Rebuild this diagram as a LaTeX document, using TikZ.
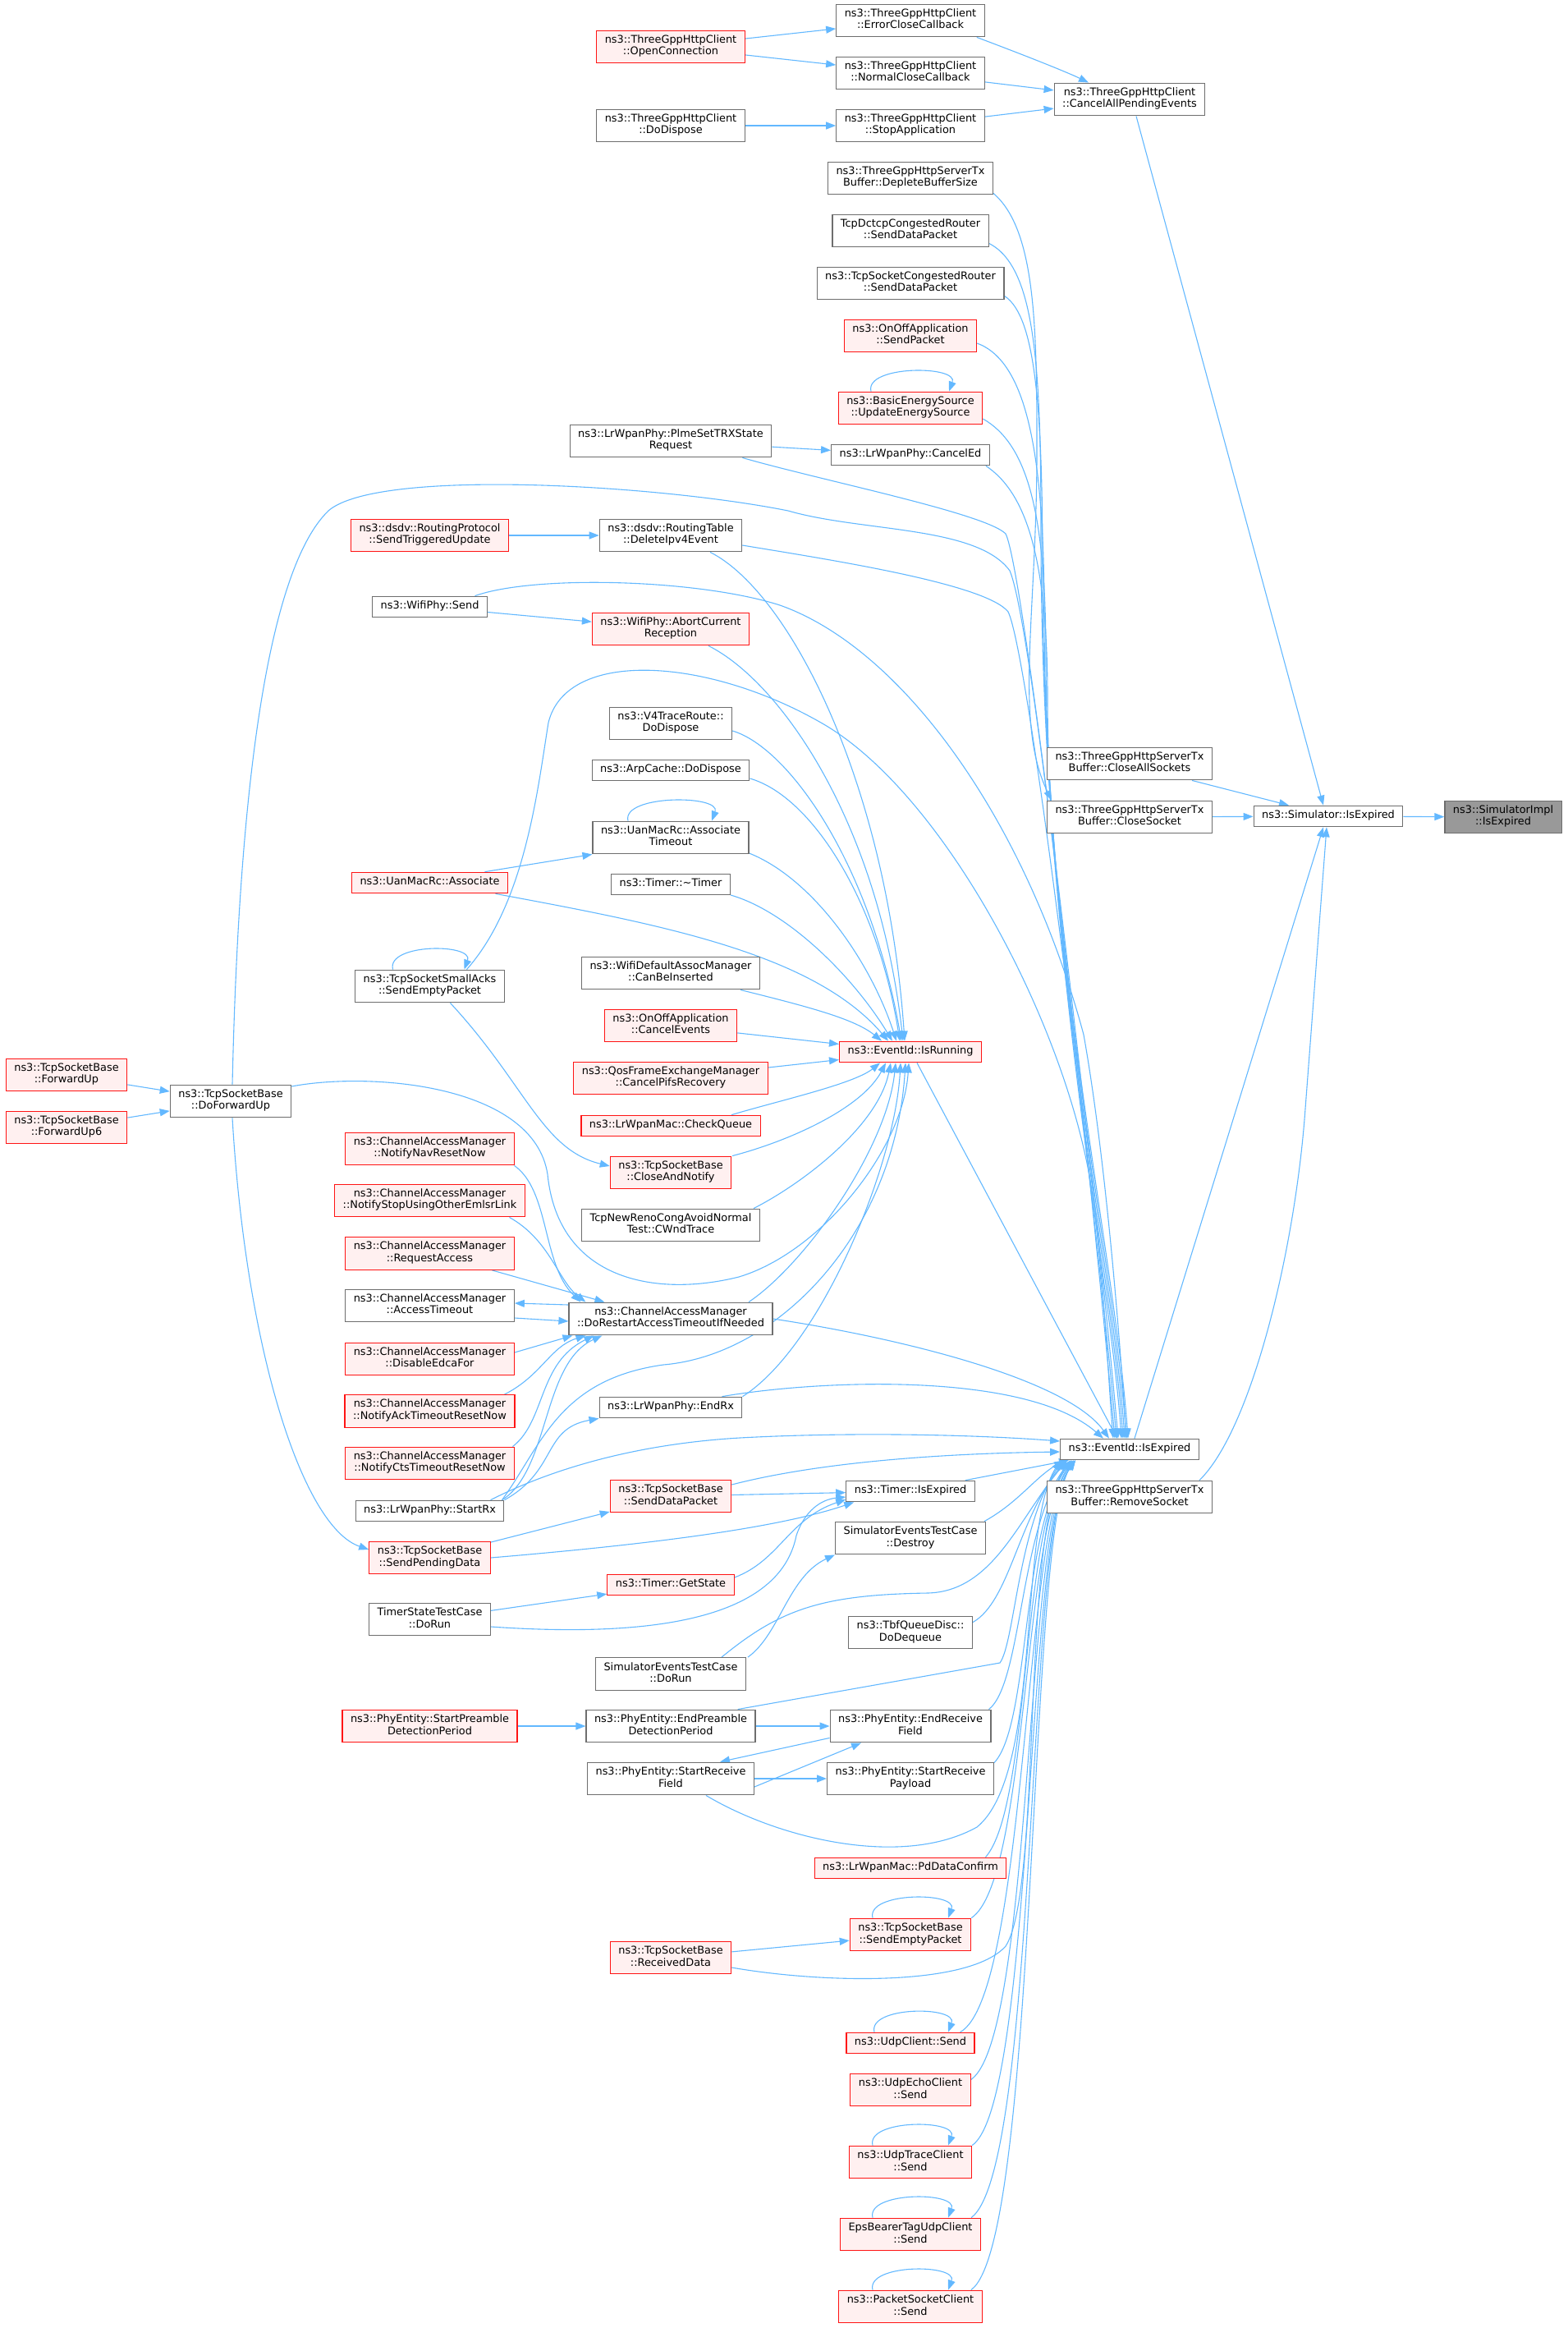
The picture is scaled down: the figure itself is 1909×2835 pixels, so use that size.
\documentclass[tikz,border=0pt]{standalone}
\usepackage{fontspec}
\setmainfont{DejaVu Sans}
\usetikzlibrary{arrows.meta,backgrounds}
\definecolor{edgeblue}{RGB}{99,184,255}
\definecolor{boxgrey}{RGB}{110,110,110}
\definecolor{truncred}{RGB}{255,20,20}
\definecolor{truncfill}{RGB}{255,240,240}
\definecolor{focusfill}{RGB}{153,153,153}
\begin{document}
\begin{tikzpicture}[x=1pt,y=-1pt,
            fn/.style={draw=boxgrey, fill=white, line width=1.2pt, align=center, inner xsep=10pt, inner ysep=5.5pt, font=\fontsize{12.9}{14.5}\selectfont, execute at begin node=\strut, execute at end node=\strut},
            fnred/.style={fn, draw=truncred, fill=truncfill},
            fnfocus/.style={fn, fill=focusfill},
            call/.style={draw=edgeblue, line width=1.1pt, -{Triangle[length=12pt,width=9pt]}}]
            \useasboundingbox (0,0) rectangle (1909,2835);
            \node[fnred] (occ) at (817,57) {ns3::ThreeGppHttpClient\\::OpenConnection};
            \node[fn] (cdisp) at (817,153) {ns3::ThreeGppHttpClient\\::DoDispose};
            \node[fn] (ecc) at (1109,25) {ns3::ThreeGppHttpClient\\::ErrorCloseCallback};
            \node[fn] (ncc) at (1109,89) {ns3::ThreeGppHttpClient\\::NormalCloseCallback};
            \node[fn] (stopapp) at (1109,153) {ns3::ThreeGppHttpClient\\::StopApplication};
            \node[fn] (cape) at (1376,121) {ns3::ThreeGppHttpClient\\::CancelAllPendingEvents};
            \node[fn] (dbs) at (1109,217) {ns3::ThreeGppHttpServerTx\\Buffer::DepleteBufferSize};
            \node[fn] (dctcp) at (1109,281) {TcpDctcpCongestedRouter\\::SendDataPacket};
            \node[fn] (tscr) at (1109,345) {ns3::TcpSocketCongestedRouter\\::SendDataPacket};
            \node[fnred] (onoffsp) at (1109,409) {ns3::OnOffApplication\\::SendPacket};
            \node[fnred] (bes) at (1109,497) {ns3::BasicEnergySource\\::UpdateEnergySource};
            \node[fn] (canceled) at (1109,554) {ns3::LrWpanPhy::CancelEd};
            \node[fn] (plme) at (817,537) {ns3::LrWpanPhy::PlmeSetTRXState\\Request};
            \node[fnred] (sendtrig) at (523.5,652) {ns3::dsdv::RoutingProtocol\\::SendTriggeredUpdate};
            \node[fn] (delipv4) at (817,652) {ns3::dsdv::RoutingTable\\::DeleteIpv4Event};
            \node[fn] (wifisend) at (523.5,739) {ns3::WifiPhy::Send};
            \node[fnred] (abortrx) at (817,766) {ns3::WifiPhy::AbortCurrent\\Reception};
            \node[fn] (v4trace) at (817,881) {ns3::V4TraceRoute::\\DoDispose};
            \node[fn] (arpcache) at (817,938) {ns3::ArpCache::DoDispose};
            \node[fn] (assoctimeout) at (817,1020) {ns3::UanMacRc::Associate\\Timeout};
            \node[fn] (timerdtor) at (817,1077) {ns3::Timer::\textasciitilde Timer};
            \node[fnred] (associate) at (523.5,1075) {ns3::UanMacRc::Associate};
            \node[fn] (canbeins) at (817,1185) {ns3::WifiDefaultAssocManager\\::CanBeInserted};
            \node[fn] (smallacks) at (523.5,1201) {ns3::TcpSocketSmallAcks\\::SendEmptyPacket};
            \node[fnred] (cancelev) at (817,1249) {ns3::OnOffApplication\\::CancelEvents};
            \node[fnred] (pifs) at (817,1313) {ns3::QosFrameExchangeManager\\::CancelPifsRecovery};
            \node[fnred] (checkq) at (817,1371) {ns3::LrWpanMac::CheckQueue};
            \node[fnred] (fwdup) at (81,1309) {ns3::TcpSocketBase\\::ForwardUp};
            \node[fnred] (fwdup6) at (81,1373) {ns3::TcpSocketBase\\::ForwardUp6};
            \node[fn] (dofwdup) at (281,1341) {ns3::TcpSocketBase\\::DoForwardUp};
            \node[fnred] (navreset) at (523.5,1399) {ns3::ChannelAccessManager\\::NotifyNavResetNow};
            \node[fnred] (closenotify) at (817,1428) {ns3::TcpSocketBase\\::CloseAndNotify};
            \node[fnred] (emlsr) at (523.5,1462) {ns3::ChannelAccessManager\\::NotifyStopUsingOtherEmlsrLink};
            \node[fn] (cwnd) at (817,1492) {TcpNewRenoCongAvoidNormal\\Test::CWndTrace};
            \node[fnred] (reqaccess) at (523.5,1526.5) {ns3::ChannelAccessManager\\::RequestAccess};
            \node[fn] (acctimeout) at (523.5,1590) {ns3::ChannelAccessManager\\::AccessTimeout};
            \node[fn] (dorestart) at (817,1606) {ns3::ChannelAccessManager\\::DoRestartAccessTimeoutIfNeeded};
            \node[fnred] (disedca) at (523.5,1655) {ns3::ChannelAccessManager\\::DisableEdcaFor};
            \node[fnred] (ackreset) at (523.5,1718.5) {ns3::ChannelAccessManager\\::NotifyAckTimeoutResetNow};
            \node[fnred] (ctsreset) at (523.5,1782) {ns3::ChannelAccessManager\\::NotifyCtsTimeoutResetNow};
            \node[fn] (endrx) at (817,1714) {ns3::LrWpanPhy::EndRx};
            \node[fn] (startrx) at (523.5,1840) {ns3::LrWpanPhy::StartRx};
            \node[fnred] (senddata) at (817,1822) {ns3::TcpSocketBase\\::SendDataPacket};
            \node[fnred] (sendpend) at (523.5,1897) {ns3::TcpSocketBase\\::SendPendingData};
            \node[fnred] (getstate) at (817,1930) {ns3::Timer::GetState};
            \node[fn] (timerstate) at (523.5,1972) {TimerStateTestCase\\::DoRun};
            \node[fn] (simevrun) at (817,2038.5) {SimulatorEventsTestCase\\::DoRun};
            \node[fnred] (startpre) at (523.5,2102) {ns3::PhyEntity::StartPreamble\\DetectionPeriod};
            \node[fn] (endpre) at (817,2102) {ns3::PhyEntity::EndPreamble\\DetectionPeriod};
            \node[fn] (startrxf) at (817,2166) {ns3::PhyEntity::StartReceive\\Field};
            \node[fnred] (recvdata) at (817,2384) {ns3::TcpSocketBase\\::ReceivedData};
            \node[fnred] (isrunning) at (1109,1281) {ns3::EventId::IsRunning};
            \node[fn] (timerexp) at (1109,1816) {ns3::Timer::IsExpired};
            \node[fn] (simevdestroy) at (1109,1873) {SimulatorEventsTestCase\\::Destroy};
            \node[fn] (tbf) at (1109,1988) {ns3::TbfQueueDisc::\\DoDequeue};
            \node[fn] (endrxf) at (1109,2102) {ns3::PhyEntity::EndReceive\\Field};
            \node[fn] (startpay) at (1109,2166) {ns3::PhyEntity::StartReceive\\Payload};
            \node[fnred] (pdconf) at (1109,2275) {ns3::LrWpanMac::PdDataConfirm};
            \node[fnred] (tcpempty) at (1109,2356) {ns3::TcpSocketBase\\::SendEmptyPacket};
            \node[fnred] (udpclient) at (1109,2488) {ns3::UdpClient::Send};
            \node[fnred] (udpecho) at (1109,2545) {ns3::UdpEchoClient\\::Send};
            \node[fnred] (udptrace) at (1109,2633) {ns3::UdpTraceClient\\::Send};
            \node[fnred] (epsbearer) at (1109,2721) {EpsBearerTagUdpClient\\::Send};
            \node[fnred] (pktsock) at (1109,2809) {ns3::PacketSocketClient\\::Send};
            \node[fn] (closeall) at (1376,930) {ns3::ThreeGppHttpServerTx\\Buffer::CloseAllSockets};
            \node[fn] (closesock) at (1376,995) {ns3::ThreeGppHttpServerTx\\Buffer::CloseSocket};
            \node[fn] (evexp) at (1376,1765) {ns3::EventId::IsExpired};
            \node[fn] (removesock) at (1376,1823) {ns3::ThreeGppHttpServerTx\\Buffer::RemoveSocket};
            \node[fn] (simexp) at (1618,994) {ns3::Simulator::IsExpired};
            \node[fnfocus] (implexp) at (1831,995) {ns3::SimulatorImpl\\::IsExpired};
            \begin{pgfonlayer}{background}
            \draw[call] (occ) -- (ecc);
            \draw[call] (occ) -- (ncc);
            \draw[call] (cdisp) -- (stopapp);
            \draw[call] ([xshift=-10pt]ecc.south east) .. controls (1250,68) and (1300,88) .. ([xshift=-50pt]cape.north);
            \draw[call] (ncc) -- (cape);
            \draw[call] (stopapp) -- (cape);
            \draw[call] ([xshift=8pt]cape.south) -- ([xshift=-6pt]simexp.north);
            \draw[call] ([xshift=76pt]closeall.south) -- ([xshift=-48pt]simexp.north);
            \draw[call] (closesock) -- (simexp);
            \draw[call] (simexp) -- (implexp);
            \draw[call] ([xshift=6pt]evexp.north) -- ([xshift=-6pt]simexp.south);
            \draw[call] ([xshift=-16pt]removesock.north east) .. controls (1525,1740) and (1578,1520) .. (1590,1350) -- ([xshift=-2pt]simexp.south);
            \draw[call] ([yshift=2pt]dbs.south east) .. controls (1262,280) and (1263,400) .. (1263,550) .. controls (1263,750) and (1235,880) .. ([xshift=-95pt]closesock.north);
            \draw[call] ([yshift=5pt]dctcp.south east) .. controls (1262,325) and (1268,450) .. (1268,650) .. controls (1268,1150) and (1352,1550) .. ([xshift=-10pt]evexp.north);
            \draw[call] ([yshift=5pt]tscr.south east) .. controls (1262,385) and (1270,500) .. (1270,700) .. controls (1270,1150) and (1354,1550) .. ([xshift=-8pt]evexp.north);
            \draw[call] ([yshift=-9pt]onoffsp.east) .. controls (1250,440) and (1272,550) .. (1272,750) .. controls (1272,1150) and (1356,1550) .. ([xshift=-6pt]evexp.north);
            \draw[call] ([yshift=-13pt]bes.east) .. controls (1250,540) and (1274,620) .. (1274,800) .. controls (1274,1150) and (1358,1550) .. ([xshift=-4pt]evexp.north);
            \draw[call] ([xshift=-5pt]canceled.south east) .. controls (1250,600) and (1276,680) .. (1276,850) .. controls (1276,1150) and (1360,1550) .. ([xshift=-2pt]evexp.north);
            \draw[call] (plme) -- (canceled);
            \draw[call] ([xshift=-36pt]plme.south east) .. controls (1000,585) and (1200,625) .. (1225,650) .. controls (1250,700) and (1340,1500) .. ([xshift=-14pt]evexp.north);
            \draw[call] (sendtrig) -- (delipv4);
            \draw[call] ([yshift=-12pt]delipv4.east) .. controls (1000,680) and (1200,710) .. (1228,745) .. controls (1255,800) and (1338,1500) .. ([xshift=-16pt]evexp.north);
            \draw[call] ([xshift=2pt]dofwdup.north) .. controls (290,1000) and (320,700) .. (400,622) .. controls (460,570) and (800,590) .. (960,622) .. controls (1050,648) and (1190,640) .. (1230,695) .. controls (1262,770) and (1335,1500) .. ([xshift=-18pt]evexp.north);
            \draw[call] ([xshift=55pt]wifisend.north) .. controls (650,700) and (850,705) .. (950,737) .. controls (1100,790) and (1250,1000) .. (1320,1260) .. controls (1345,1400) and (1362,1600) .. ([xshift=-4pt]evexp.north);
            \draw[call] ([xshift=45pt]smallacks.north) .. controls (640,1100) and (655,960) .. (668,880) .. controls (690,790) and (860,800) .. (1000,880) .. controls (1150,965) and (1300,1250) .. (1330,1450) .. controls (1345,1560) and (1350,1680) .. ([xshift=-20pt]evexp.north);
            \draw[call] (wifisend) -- (abortrx);
            \draw[call] ([xshift=67pt]associate.north) -- (assoctimeout.south west);
            \draw[call] ([xshift=48pt]delipv4.south) .. controls (960,720) and (1080,950) .. ([xshift=-7pt]isrunning.north);
            \draw[call] ([xshift=46pt]abortrx.south) .. controls (950,830) and (1070,1000) .. ([xshift=-9pt]isrunning.north);
            \draw[call] ([yshift=-9pt]v4trace.east) .. controls (960,910) and (1060,1050) .. ([xshift=-11pt]isrunning.north);
            \draw[call] ([yshift=-10pt]arpcache.east) .. controls (990,970) and (1070,1100) .. ([xshift=-13pt]isrunning.north);
            \draw[call] ([yshift=-19pt]assoctimeout.east) .. controls (990,1070) and (1060,1170) .. ([xshift=-17pt]isrunning.north);
            \draw[call] ([yshift=-13pt]timerdtor.east) .. controls (960,1110) and (1040,1190) .. ([xshift=-22pt]isrunning.north);
            \draw[call] ([xshift=80pt]associate.south) .. controls (800,1125) and (990,1160) .. ([xshift=-27pt]isrunning.north);
            \draw[call] ([xshift=85pt]canbeins.south) .. controls (980,1225) and (1040,1240) .. ([xshift=-35pt]isrunning.north);
            \draw[call] (cancelev) -- (isrunning);
            \draw[call] (pifs) -- (isrunning);
            \draw[call] ([xshift=74pt]checkq.north) .. controls (950,1340) and (1040,1320) .. ([xshift=-37pt]isrunning.south);
            \draw[call] ([xshift=75pt]closenotify.north) .. controls (960,1390) and (1050,1350) .. ([xshift=-30pt]isrunning.south);
            \draw[call] ([xshift=101pt]cwnd.north) .. controls (980,1440) and (1070,1370) .. ([xshift=-24pt]isrunning.south);
            \draw[call] ([xshift=95pt]dorestart.north) .. controls (980,1540) and (1080,1400) .. ([xshift=-18pt]isrunning.south);
            \draw[call] (endrx.north east) .. controls (1000,1640) and (1090,1420) .. ([xshift=-12pt]isrunning.south);
            \draw[call] ([xshift=88pt]startrx.north) .. controls (660,1760) and (680,1680) .. (808,1662) .. controls (950,1650) and (1090,1500) .. ([xshift=-6pt]isrunning.south);
            \draw[call] ([yshift=18pt]dofwdup.east) .. controls (450,1305) and (650,1320) .. (667,1430) .. controls (680,1560) and (800,1580) .. (900,1555) .. controls (1000,1525) and (1100,1400) .. ([xshift=-2pt]isrunning.south);
            \draw[call] ([xshift=8pt]isrunning.south) -- ([xshift=-15pt]evexp.north);
            \draw[call] (fwdup) -- (dofwdup);
            \draw[call] (fwdup6) -- (dofwdup);
            \draw[call] ([xshift=2pt]dofwdup.south) .. controls (300,1650) and (370,1860) .. ([yshift=10pt]sendpend.west);
            \draw[call] ([xshift=25pt]smallacks.south) .. controls (640,1320) and (660,1400) .. ([yshift=8pt]closenotify.west);
            \draw[call] ([xshift=103pt]navreset.south) .. controls (670,1450) and (660,1540) .. ([xshift=15pt]dorestart.north west);
            \draw[call] ([xshift=97pt]emlsr.south) .. controls (670,1510) and (680,1560) .. ([xshift=21pt]dorestart.north west);
            \draw[call] ([xshift=76pt]reqaccess.south) -- ([xshift=44pt]dorestart.north west);
            \draw[call] ([yshift=17pt]dorestart.west) -- ([yshift=3pt]acctimeout.east);
            \draw[call] ([yshift=-15pt]acctimeout.east) -- ([yshift=-3pt]dorestart.west);
            \draw[call] ([yshift=8pt]disedca.east) -- ([xshift=5pt]dorestart.south west);
            \draw[call] ([xshift=91pt]ackreset.north) .. controls (660,1675) and (670,1640) .. ([xshift=21pt]dorestart.south west);
            \draw[call] ([xshift=101pt]ctsreset.north) .. controls (665,1730) and (655,1660) .. ([xshift=31pt]dorestart.south west);
            \draw[call] ([xshift=88pt]startrx.north) .. controls (670,1790) and (660,1660) .. ([xshift=41pt]dorestart.south west);
            \draw[call] ([xshift=91pt]startrx.north) .. controls (680,1790) and (660,1740) .. (endrx.south west);
            \draw[call] ([xshift=74pt]startrx.north) .. controls (650,1800) and (750,1760) .. (901,1751) .. controls (1050,1743) and (1200,1748) .. ([yshift=10pt]evexp.west);
            \draw[call] (dorestart.east) .. controls (1100,1630) and (1300,1680) .. ([xshift=-25pt]evexp.north);
            \draw[call] ([xshift=-25pt]endrx.north east) .. controls (1000,1680) and (1250,1670) .. ([xshift=-32pt]evexp.north);
            \draw[call] ([yshift=14pt]senddata.east) .. controls (1000,1780) and (1150,1770) .. ([yshift=-3pt]evexp.west);
            \draw[call] (senddata) -- (timerexp);
            \draw[call] (sendpend) -- (senddata);
            \draw[call] (sendpend.east) .. controls (800,1880) and (950,1860) .. ([xshift=10pt]timerexp.south west);
            \draw[call] ([yshift=9pt]getstate.east) .. controls (950,1900) and (960,1850) .. ([yshift=-10pt]timerexp.west);
            \draw[call] (timerstate) -- (getstate);
            \draw[call] ([yshift=-9pt]timerstate.east) .. controls (800,1995) and (950,1970) .. (970,1870) .. controls (980,1840) and (1000,1826) .. ([yshift=-7pt]timerexp.west);
            \draw[call] ([xshift=94pt]simevrun.north) .. controls (950,1990) and (960,1920) .. (simevdestroy.south west);
            \draw[call] ([xshift=62pt]simevrun.north) .. controls (950,1960) and (1000,1942) .. (1130,1940) .. controls (1210,1938) and (1240,1850) .. ([xshift=-76pt]evexp.south);
            \draw[call] ([xshift=-2pt]simevdestroy.north east) .. controls (1240,1830) and (1260,1800) .. ([xshift=-80pt]evexp.south);
            \draw[call] ([xshift=-12pt]timerexp.north east) -- ([xshift=-74pt]evexp.south);
            \draw[call] ([yshift=-8pt]tbf.north east) .. controls (1230,1950) and (1240,1850) .. ([xshift=-78pt]evexp.south);
            \draw[call] (startpre) -- (endpre);
            \draw[call] (endpre) -- (endrxf);
            \draw[call] ([xshift=-22pt]endpre.north east) -- (1218,2025) .. controls (1236,2000) and (1240,1860) .. ([xshift=-82pt]evexp.south);
            \draw[call] ([yshift=6pt]endrxf.south west) -- ([xshift=60pt]startrxf.north);
            \draw[call] ([yshift=-10pt]startrxf.east) -- ([xshift=-60pt]endrxf.south);
            \draw[call] (startrxf) -- (startpay);
            \draw[call] ([xshift=43pt]startrxf.south) .. controls (950,2240) and (1100,2275) .. (1190,2225) .. controls (1270,2160) and (1240,1860) .. ([xshift=-84pt]evexp.south);
            \draw[call] ([xshift=-3pt]endrxf.north east) .. controls (1245,2050) and (1242,1860) .. ([xshift=-72pt]evexp.south);
            \draw[call] ([yshift=-1pt]startpay.north east) .. controls (1255,2100) and (1244,1860) .. ([xshift=-70pt]evexp.south);
            \draw[call] ([xshift=-26pt]pdconf.north east) .. controls (1255,2200) and (1244,1860) .. ([xshift=-70pt]evexp.south);
            \draw[call] (tcpempty.north east) .. controls (1252,2290) and (1246,1860) .. ([xshift=-68pt]evexp.south);
            \draw[call] (recvdata) -- (tcpempty);
            \draw[call] ([yshift=-12pt]recvdata.east) .. controls (1000,2415) and (1180,2420) .. (1225,2370) .. controls (1270,2300) and (1244,1860) .. ([xshift=-72pt]evexp.south);
            \draw[call] ([xshift=-18pt]udpclient.north east) .. controls (1250,2430) and (1248,1860) .. ([xshift=-68pt]evexp.south);
            \draw[call] ([yshift=-8pt]udpecho.north east) .. controls (1258,2480) and (1248,1860) .. ([xshift=-66pt]evexp.south);
            \draw[call] (udptrace.north east) .. controls (1260,2560) and (1250,1860) .. ([xshift=-66pt]evexp.south);
            \draw[call] ([xshift=-12pt]epsbearer.north east) .. controls (1265,2640) and (1250,1860) .. ([xshift=-66pt]evexp.south);
            \draw[call] ([xshift=-14pt]pktsock.north east) .. controls (1265,2730) and (1252,1860) .. ([xshift=-66pt]evexp.south);
            \draw[call] ([xshift=-48pt]bes.north) .. controls +(-8,-32) and +(12,-32) .. ([xshift=47pt]bes.north);
            \draw[call] ([xshift=-52pt]assoctimeout.north) .. controls +(-8,-32) and +(12,-32) .. ([xshift=50pt]assoctimeout.north);
            \draw[call] ([xshift=-45pt]smallacks.north) .. controls +(-8,-32) and +(12,-32) .. ([xshift=42pt]smallacks.north);
            \draw[call] ([xshift=-46pt]tcpempty.north) .. controls +(-8,-32) and +(12,-32) .. ([xshift=46pt]tcpempty.north);
            \draw[call] ([xshift=-44pt]udpclient.north) .. controls +(-8,-32) and +(12,-32) .. ([xshift=46pt]udpclient.north);
            \draw[call] ([xshift=-46pt]udptrace.north) .. controls +(-8,-32) and +(12,-32) .. ([xshift=46pt]udptrace.north);
            \draw[call] ([xshift=-46pt]epsbearer.north) .. controls +(-8,-32) and +(12,-32) .. ([xshift=46pt]epsbearer.north);
            \draw[call] ([xshift=-46pt]pktsock.north) .. controls +(-8,-32) and +(12,-32) .. ([xshift=46pt]pktsock.north);
            \end{pgfonlayer}
\end{tikzpicture}
\end{document}
